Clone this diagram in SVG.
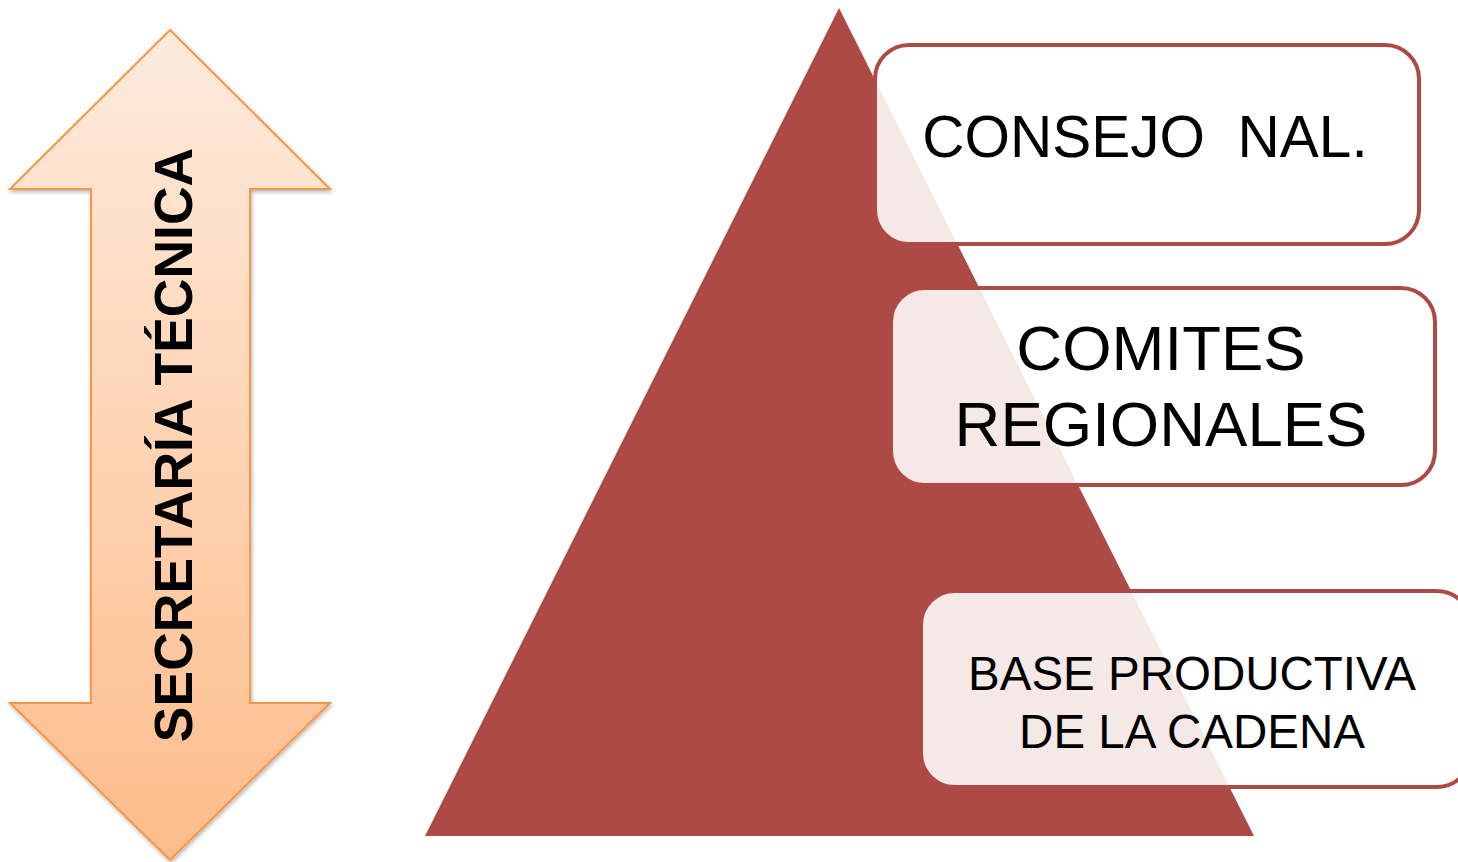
<svg xmlns="http://www.w3.org/2000/svg" width="1458" height="862" viewBox="0 0 1458 862">
<defs>
<linearGradient id="ag" x1="0" y1="0" x2="0" y2="1">
<stop offset="0" stop-color="#FEEBDD"/>
<stop offset="1" stop-color="#FDBC8A"/>
</linearGradient>
<filter id="sh" x="-10%" y="-10%" width="120%" height="120%">
<feGaussianBlur in="SourceAlpha" stdDeviation="2"/>
<feOffset dx="1" dy="2"/>
<feComponentTransfer><feFuncA type="linear" slope="0.3"/></feComponentTransfer>
<feMerge><feMergeNode/><feMergeNode in="SourceGraphic"/></feMerge>
</filter>
</defs>
<style>
.box{fill:#FFFFFF;fill-opacity:0.88;stroke:#AE4A46;stroke-width:4}
.t{font-family:"Liberation Sans",Arial,sans-serif;fill:#000;text-anchor:middle}
</style>
<rect width="1458" height="862" fill="#FFFFFF"/>
<g id="arrow">
<polygon points="170,30 330,189 250,189 250,703 330,703 170,860 10,703 91,703 91,189 10,189" fill="url(#ag)" stroke="#F79646" stroke-width="2" filter="url(#sh)"/>
<text class="t" transform="translate(192,445) rotate(-90)" font-size="53.5" font-weight="bold">SECRETARÍA TÉCNICA</text>
</g>
<g id="pyramid">
<polygon points="839,8 1254,836 425,836" fill="#AE4A46"/>
</g>
<g id="consejo">
<rect class="box" x="875" y="45" width="544" height="199" rx="34"/>
<text class="t" x="1145" y="157" font-size="58.5" xml:space="preserve">CONSEJO  NAL.</text>
</g>
<g id="comites">
<rect class="box" x="891" y="288" width="544" height="197" rx="34"/>
<text class="t" x="1161" y="370" font-size="63.5">COMITES</text>
<text class="t" x="1161" y="446" font-size="63.5">REGIONALES</text>
</g>
<g id="base">
<rect class="box" x="921" y="591" width="550" height="196" rx="34"/>
<text class="t" x="1192" y="690" font-size="47.5">BASE PRODUCTIVA</text>
<text class="t" x="1192" y="748" font-size="47.5">DE LA CADENA</text>
</g>
<g id="connectors"></g>
</svg>
